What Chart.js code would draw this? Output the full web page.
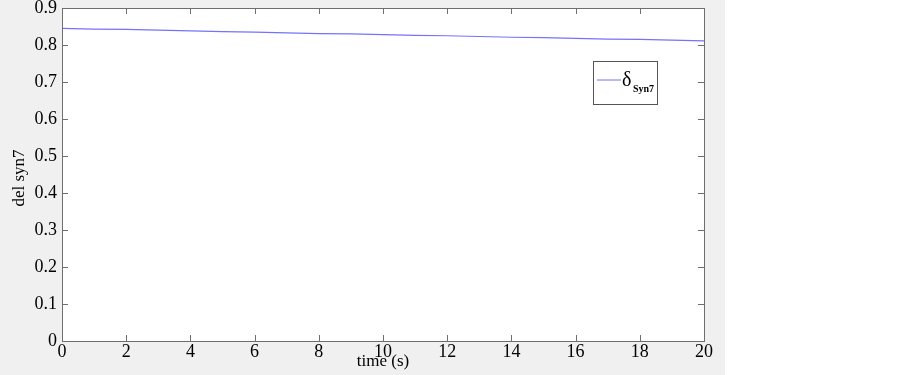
<!DOCTYPE html>
<html><head><meta charset="utf-8">
<script src="https://cdn.jsdelivr.net/npm/chart.js@4.4.0/dist/chart.umd.min.js"></script>
<style>html,body{margin:0;padding:0;background:#fff}#wrap{width:903px;height:375px;position:relative}</style>
</head><body><div id="wrap"><canvas id="c" width="903" height="375"></canvas></div>
<script>
const timeValues = [0,1,2,3,4,5,6,7,8,9,10,11,12,13,14,15,16,17,18,19,20];
const delSyn7 = [0.845,0.843,0.842,0.840,0.838,0.836,0.835,0.833,0.831,0.830,0.828,0.826,0.825,0.823,0.821,0.820,0.818,0.816,0.815,0.813,0.811];
const xTickValues = [0,2,4,6,8,10,12,14,16,18,20];
const yTickValues = [0,0.1,0.2,0.3,0.4,0.5,0.6,0.7,0.8,0.9];
const seriesName = "δ";
const seriesSub = "Syn7";
const xTitle = "time (s)";
const yTitle = "del syn7";

const FONT = "'Liberation Serif','Times New Roman',serif";
const points = timeValues.map((t,i)=>({x:t,y:delSyn7[i]}));

const deco = {
  id:'deco',
  beforeDraw(chart){
    const ctx = chart.ctx, a = chart.chartArea;
    ctx.save();
    ctx.fillStyle = '#ffffff';
    ctx.fillRect(0,0,chart.width,chart.height);
    ctx.fillStyle = '#f0f0f0';
    ctx.fillRect(0,0,725,375);
    ctx.fillStyle = '#ffffff';
    ctx.fillRect(a.left,a.top,a.right-a.left,a.bottom-a.top);
    ctx.restore();
  },
  afterDraw(chart){
    const ctx = chart.ctx, a = chart.chartArea;
    const xs = chart.scales.x, ys = chart.scales.y;
    ctx.save();
    ctx.strokeStyle = '#6e6e6e';
    ctx.lineWidth = 1;
    ctx.strokeRect(Math.round(a.left)+0.5, Math.round(a.top)+0.5, Math.round(a.right-a.left), Math.round(a.bottom-a.top));
    const tl = 6;
    ctx.beginPath();
    xTickValues.forEach(v=>{
      const px = Math.round(xs.getPixelForValue(v))+0.5;
      ctx.moveTo(px,a.bottom); ctx.lineTo(px,a.bottom-tl);
      ctx.moveTo(px,a.top); ctx.lineTo(px,a.top+tl);
    });
    yTickValues.forEach(v=>{
      const py = Math.round(ys.getPixelForValue(v))+0.5;
      ctx.moveTo(a.left,py); ctx.lineTo(a.left+tl,py);
      ctx.moveTo(a.right,py); ctx.lineTo(a.right-tl,py);
    });
    ctx.stroke();
    // axis titles
    ctx.fillStyle = '#000';
    ctx.font = '17px ' + FONT;
    ctx.textAlign = 'center'; ctx.textBaseline = 'middle';
    ctx.fillText(xTitle, 383, 362);
    ctx.save();
    ctx.translate(20,178);
    ctx.rotate(-Math.PI/2);
    ctx.fillText(yTitle,0,0);
    ctx.restore();
    // legend
    const lx = 593, ly = 61, lw = 64, lh = 43;
    ctx.fillStyle = '#fff';
    ctx.fillRect(lx,ly,lw,lh);
    ctx.strokeStyle = '#555';
    ctx.strokeRect(lx+0.5,ly+0.5,lw,lh);
    ctx.strokeStyle = chart.data.datasets[0].borderColor;
    ctx.beginPath(); ctx.moveTo(597,80); ctx.lineTo(621,80); ctx.stroke();
    ctx.fillStyle = '#000';
    ctx.textAlign = 'left'; ctx.textBaseline = 'alphabetic';
    ctx.font = '20px ' + FONT;
    ctx.fillText(seriesName, 622, 86);
    ctx.font = 'bold 10px ' + FONT;
    ctx.fillText(seriesSub, 633, 92);
    ctx.restore();
  }
};

new Chart(document.getElementById('c'), {
  type:'line',
  data:{datasets:[{label:seriesName+seriesSub, data:points, borderColor:'rgb(115,115,255)', borderWidth:1.2, pointRadius:0, fill:false, tension:0}]},
  options:{
    responsive:false, animation:false, devicePixelRatio:1,
    layout:{padding:{left:0,right:199,top:8,bottom:0}},
    plugins:{legend:{display:false},tooltip:{enabled:false}},
    scales:{
      x:{type:'linear',min:0,max:20,
        afterBuildTicks(s){s.ticks = xTickValues.map(v=>({value:v}));},
        afterFit(s){s.height = 34; s.paddingLeft = 0; s.paddingRight = 0;},
        grid:{display:false,drawTicks:false},
        border:{display:false},
        ticks:{color:'#000',font:{family:FONT,size:18},padding:0,maxRotation:0,autoSkip:false}},
      y:{type:'linear',min:0,max:0.9,
        afterBuildTicks(s){s.ticks = yTickValues.map(v=>({value:v}));},
        afterFit(s){s.width = 62; s.paddingTop = 0; s.paddingBottom = 0;},
        grid:{display:false,drawTicks:false},
        border:{display:false},
        ticks:{color:'#000',font:{family:FONT,size:18},padding:5,autoSkip:false,
          callback:v=>Number(v.toFixed(1)).toString()}}
    }
  },
  plugins:[deco]
});
</script></body></html>
